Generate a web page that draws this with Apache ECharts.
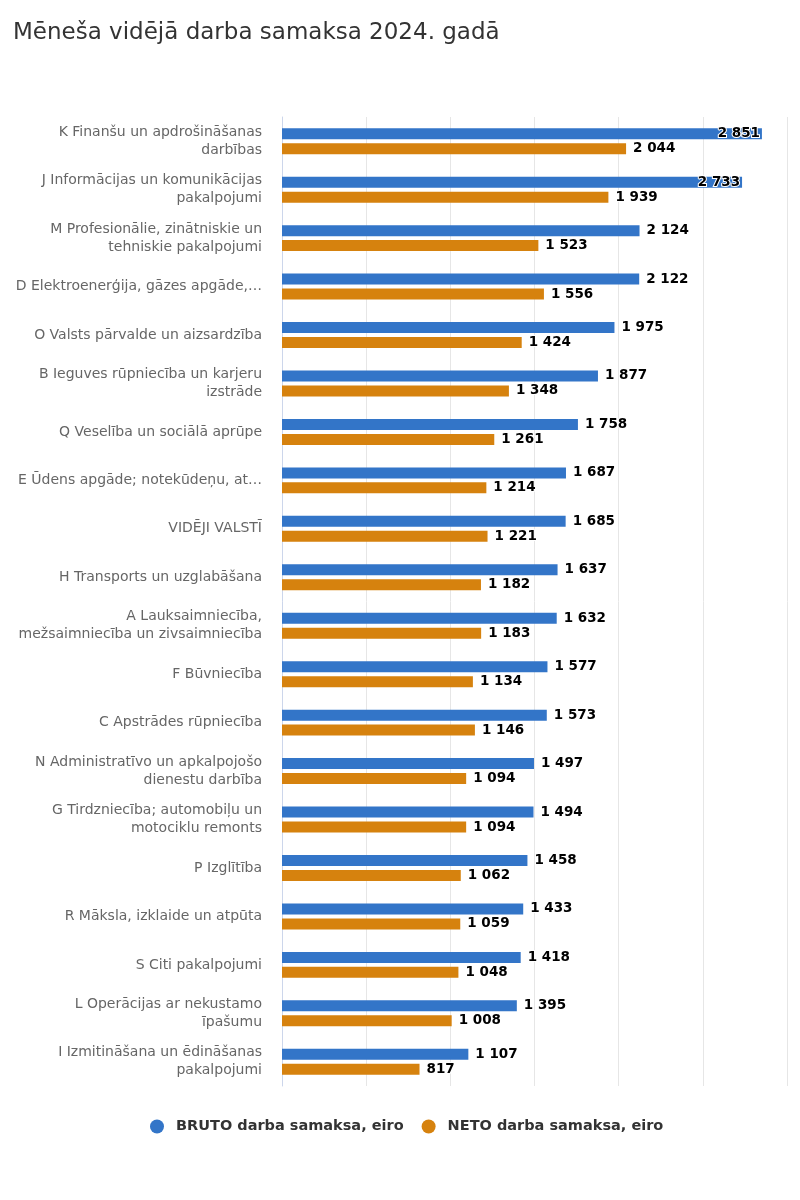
<!DOCTYPE html>
<html>
<head>
<meta charset="utf-8">
<script src="https://cdn.jsdelivr.net/npm/echarts@6/dist/echarts.min.js"></script>
<style>
  html, body { margin: 0; padding: 0; background: #fff; }
  #chart { width: 800px; height: 1200px; }
</style>
</head>
<body>
<div id="chart"></div>
<script>
const categories = [
    'K Finanšu un apdrošināšanas\ndarbības',
    'J Informācijas un komunikācijas\npakalpojumi',
    'M Profesionālie, zinātniskie un\ntehniskie pakalpojumi',
    'D Elektroenerģija, gāzes apgāde,…',
    'O Valsts pārvalde un aizsardzība',
    'B Ieguves rūpniecība un karjeru\nizstrāde',
    'Q Veselība un sociālā aprūpe',
    'E Ūdens apgāde; notekūdeņu, at…',
    'VIDĒJI VALSTĪ',
    'H Transports un uzglabāšana',
    'A Lauksaimniecība,\nmežsaimniecība un zivsaimniecība',
    'F Būvniecība',
    'C Apstrādes rūpniecība',
    'N Administratīvo un apkalpojošo\ndienestu darbība',
    'G Tirdzniecība; automobiļu un\nmotociklu remonts',
    'P Izglītība',
    'R Māksla, izklaide un atpūta',
    'S Citi pakalpojumi',
    'L Operācijas ar nekustamo\nīpašumu',
    'I Izmitināšana un ēdināšanas\npakalpojumi'
];
const bruto = [2851, 2733, 2124, 2122, 1975, 1877, 1758, 1687, 1685, 1637,
    1632, 1577, 1573, 1497, 1494, 1458, 1433, 1418, 1395, 1107];
const neto = [2044, 1939, 1523, 1556, 1424, 1348, 1261, 1214, 1221, 1182,
    1183, 1134, 1146, 1094, 1094, 1062, 1059, 1048, 1008, 817];
const seriesNames = ['BRUTO darba samaksa, eiro', 'NETO darba samaksa, eiro'];

const FONT = '"DejaVu Sans", sans-serif';
const fmt = v => String(v).replace(/\B(?=(\d{3})+(?!\d))/g, ' ');

// labels that would run past the plot go inside the bar end
const withLabels = values => values.map(v => v > 2600
    ? { value: v, label: { position: 'insideRight', distance: 2 } }
    : v);

const valueLabel = {
    show: true,
    position: 'right',
    distance: 7,
    formatter: p => fmt(p.value),
    color: '#000',
    fontFamily: FONT,
    fontSize: 13.5,
    fontWeight: 'bold',
    textBorderColor: '#fff',
    textBorderWidth: 2
};

let myChart = echarts.init(document.getElementById('chart'));
let option = {
    animation: false,
    title: {
        text: 'Mēneša vidējā darba samaksa 2024. gadā',
        left: 8,
        top: 17,
        textStyle: { fontFamily: FONT, fontSize: 23, fontWeight: 'normal', color: '#333' }
    },
    legend: {
        bottom: 61,
        left: 145,
        icon: 'circle',
        itemWidth: 14,
        itemHeight: 14,
        itemGap: 18,
        textStyle: {
            fontFamily: FONT, fontSize: 14.5, fontWeight: 'bold', color: '#333',
            padding: [0, 0, 0, 7]
        },
        data: seriesNames
    },
    grid: { left: 282, right: 13, top: 117, bottom: 114, containLabel: false },
    xAxis: {
        type: 'value',
        min: 0,
        max: 3000,
        interval: 500,
        axisLabel: { show: false },
        axisLine: { show: false },
        axisTick: { show: false },
        splitLine: { lineStyle: { color: '#e6e6e6' } }
    },
    yAxis: {
        type: 'category',
        inverse: true,
        data: categories,
        axisLine: { lineStyle: { color: '#ccd6eb' } },
        axisTick: { show: false },
        axisLabel: {
            margin: 20,
            color: '#666',
            fontFamily: FONT,
            fontSize: 14,
            lineHeight: 18,
            align: 'right'
        }
    },
    series: [{
        name: seriesNames[0],
        type: 'bar',
        data: withLabels(bruto),
        barWidth: 11,
        barGap: '36%',
        itemStyle: { color: '#3375c8' },
        label: valueLabel
    }, {
        name: seriesNames[1],
        type: 'bar',
        data: withLabels(neto),
        barWidth: 11,
        itemStyle: { color: '#d6820e' },
        label: valueLabel
    }]
};
option && myChart.setOption(option);
</script>
</body>
</html>
